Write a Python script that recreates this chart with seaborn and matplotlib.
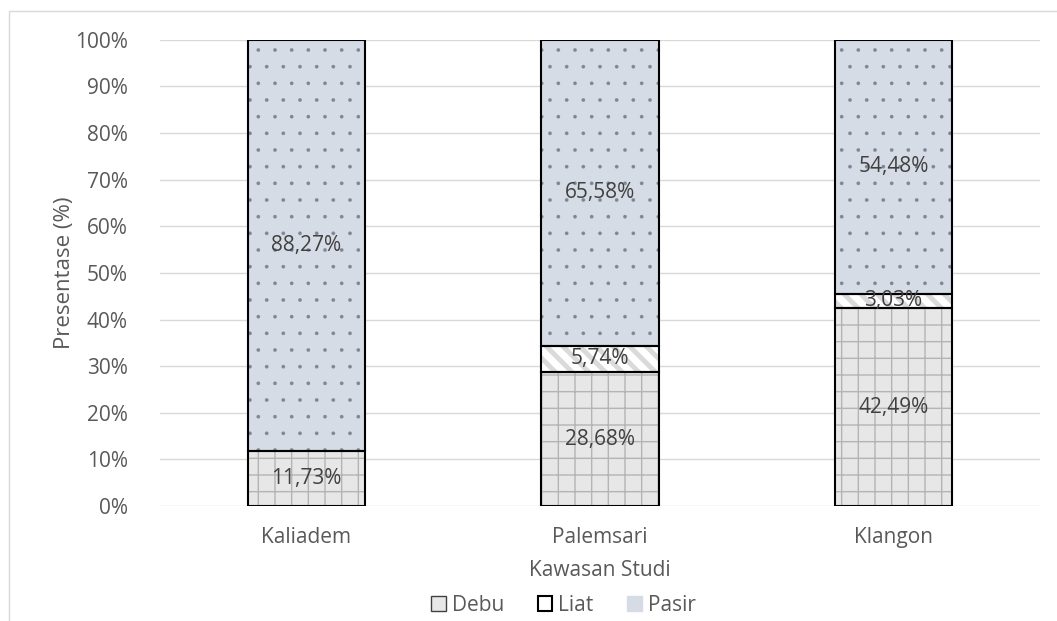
import matplotlib.pyplot as plt
import matplotlib.patches as mpatches
import seaborn as sns
import numpy as np
import pandas as pd

sites = ['Kaliadem', 'Palemsari', 'Klangon']
debu = [11.73, 28.68, 42.49]
liat = [0.0, 5.74, 3.03]
pasir = [88.27, 65.58, 54.48]
y_ticks = [0, 10, 20, 30, 40, 50, 60, 70, 80, 90, 100]

sns.set_theme(style='white')
plt.rcParams['font.family'] = ['Open Sans', 'DejaVu Sans']
txt = '#595959'
fs = 15

fig = plt.figure(figsize=(10.57, 6.21), dpi=100)
ax = fig.add_axes([0.151, 0.185, 0.833, 0.751])

# outer chart border like in the spreadsheet export
fig.patches.append(mpatches.Rectangle((9 / 1057, -0.1), 1.2, 1 - 11 / 621 + 0.1,
                                      transform=fig.transFigure, fill=False,
                                      edgecolor='#d9d9d9', linewidth=1))

df = pd.DataFrame({'site': sites, 'Debu': debu, 'Liat': liat, 'Pasir': pasir})
bottom_liat = np.array(debu)
bottom_pasir = np.array(debu) + np.array(liat)

# name, bottom, face colour, hatch colour, hatch, hatch linewidth
layers = [
    ('Debu', np.zeros(3), '#e7e7e7', '#b4b4b4', '+', 1.0),
    ('Liat', bottom_liat, '#ffffff', '#dadada', '\\\\', 3.5),
    ('Pasir', bottom_pasir, '#d6dce5', '#7d8596', '.', 0.2),
]
for name, bot, fc, hc, hatch, hlw in layers:
    plt.rcParams['hatch.linewidth'] = hlw
    # fill + hatch (hatch takes edge colour), then a black outline on top
    sns.barplot(data=df, x='site', y=name, bottom=bot, color=fc, saturation=1,
                width=0.4, hatch=hatch, edgecolor=hc, linewidth=0, ax=ax, zorder=2)
    for p in ax.containers[-1]:
        if p.get_height() > 0:
            ax.add_patch(mpatches.Rectangle(p.get_xy(), p.get_width(), p.get_height(),
                                            fill=False, edgecolor='black',
                                            linewidth=1.5, zorder=3))

for i in range(3):
    vals = [(debu[i], 0), (liat[i], bottom_liat[i]), (pasir[i], bottom_pasir[i])]
    for v, b in vals:
        if v > 0:
            ax.text(i, b + v / 2, f'{v:.2f}%'.replace('.', ','), ha='center',
                    va='center', fontsize=fs, color='#404040', zorder=4)

ax.set_ylim(0, 100)
ax.set_xlim(-0.5, 2.5)
ax.set_yticks(y_ticks)
ax.set_yticklabels([f'{t}%' for t in y_ticks], fontsize=fs, color=txt)
ax.tick_params(axis='x', labelsize=fs, labelcolor=txt, pad=9)
ax.tick_params(axis='y', pad=17)
ax.grid(axis='y', color='#d9d9d9', linewidth=1, zorder=0)
ax.set_axisbelow(True)
for s in ax.spines.values():
    s.set_visible(False)
ax.set_xlabel('Kawasan Studi', fontsize=fs, color=txt, labelpad=9)
ax.set_ylabel('Presentase (%)', fontsize=fs + 1, color=txt, labelpad=0)

handles = [
    mpatches.Patch(facecolor='#e7e7e7', edgecolor='#404040', label='Debu'),
    mpatches.Patch(facecolor='#ffffff', edgecolor='black', linewidth=1.5, label='Liat'),
    mpatches.Patch(facecolor='#d6dce5', edgecolor='#d6dce5', label='Pasir'),
]
fig.legend(handles=handles, loc='center', bbox_to_anchor=(0.533, 0.025), ncol=3,
           frameon=False, fontsize=fs, handlelength=0.7, handleheight=0.7,
           handletextpad=0.3, columnspacing=1.6, labelcolor=txt)

fig.savefig('out.png', dpi=100)
